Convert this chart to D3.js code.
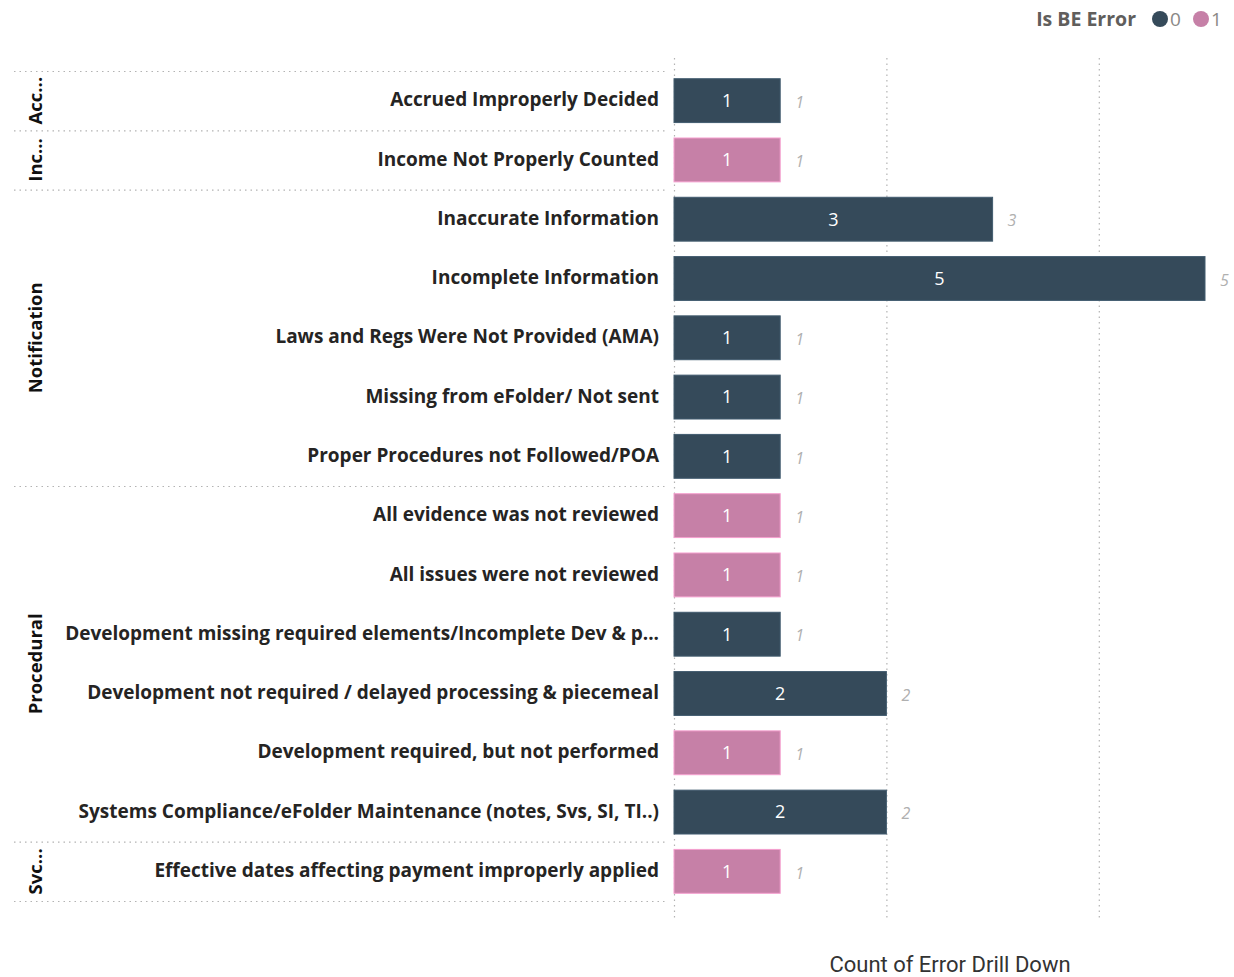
<!DOCTYPE html>
<meta charset="utf-8">
<style>
body { margin: 0; background: #fff; font-family: 'Open Sans', sans-serif; }
</style>
<div id="chart"></div>
<script src="https://d3js.org/d3.v7.min.js"></script>
<script>
var categories = [
  "Accrued Improperly Decided",
  "Income Not Properly Counted",
  "Inaccurate Information",
  "Incomplete Information",
  "Laws and Regs Were Not Provided (AMA)",
  "Missing from eFolder/ Not sent",
  "Proper Procedures not Followed/POA",
  "All evidence was not reviewed",
  "All issues were not reviewed",
  "Development missing required elements/Incomplete Dev & p...",
  "Development not required / delayed processing & piecemeal",
  "Development required, but not performed",
  "Systems Compliance/eFolder Maintenance (notes, Svs, SI, TI..)",
  "Effective dates affecting payment improperly applied"
];
var counts = [1, 1, 3, 5, 1, 1, 1, 1, 1, 1, 2, 1, 2, 1];
var isBE = ["0", "1", "0", "0", "0", "0", "0", "1", "1", "0", "0", "1", "0", "1"];
var groups = ["Acc...", "Inc...", "Notification", "Procedural", "Svc..."];
var groupSizes = [1, 1, 5, 6, 1];
var gridTicks = [0, 2, 4];

var W = 1234, H = 977;
var svg = d3.select("#chart").append("svg").attr("width", W).attr("height", H);

var x = d3.scaleLinear().domain([0, 5]).range([674, 1205]);
var y = d3.scaleBand().domain(categories).range([71, 901]).paddingInner(0.26).paddingOuter(0.13);
var color = d3.scaleOrdinal().domain(["0", "1"]).range(["#354a5a", "#c680a7"]);

// vertical grid
svg.selectAll(".grid").data(gridTicks).enter().append("line")
  .attr("x1", function(d){ return x(d) + 0.5; })
  .attr("x2", function(d){ return x(d) + 0.5; })
  .attr("y1", 58).attr("y2", 918)
  .attr("stroke", "#b3b3b3").attr("stroke-width", 1.2)
  .attr("stroke-dasharray", "1.5,4");

// group separators
var bounds = [0];
groupSizes.forEach(function(s, i){ bounds.push(bounds[i] + s); });
var step = y.step();
function rowTop(i){ return 71 + i * step; }

svg.selectAll(".sep").data(bounds).enter().append("line")
  .attr("x1", 14).attr("x2", 668)
  .attr("y1", function(d){ return rowTop(d) + 0.5; })
  .attr("y2", function(d){ return rowTop(d) + 0.5; })
  .attr("stroke", "#b3b3b3").attr("stroke-width", 1.2)
  .attr("stroke-dasharray", "1.5,4");

// group labels
svg.selectAll(".grp").data(groups).enter().append("text")
  .attr("transform", function(d, i){
    var cy = (rowTop(bounds[i]) + rowTop(bounds[i + 1])) / 2;
    return "translate(42," + cy + ") rotate(-90)";
  })
  .attr("text-anchor", "middle")
  .style("font-size", "18.5px").style("font-weight", "bold").style("fill", "#111")
  .text(function(d){ return d; });

// category labels
svg.selectAll(".cat").data(categories).enter().append("text")
  .attr("x", 659)
  .attr("y", function(d){ return y(d) + y.bandwidth() / 2; })
  .attr("dy", "0.3em")
  .attr("text-anchor", "end")
  .style("font-size", "19px").style("font-weight", "bold").style("fill", "#252423")
  .text(function(d){ return d; });

// bars
svg.selectAll(".bar").data(categories).enter().append("rect")
  .attr("x", x(0))
  .attr("y", function(d){ return y(d); })
  .attr("width", function(d, i){ return x(counts[i]) - x(0); })
  .attr("height", y.bandwidth())
  .attr("fill", function(d, i){ return color(isBE[i]); })
  .attr("stroke", function(d, i){ return d3.color(color(isBE[i])).brighter(0.6); })
  .attr("stroke-width", 1);

// inside labels
svg.selectAll(".in").data(categories).enter().append("text")
  .attr("x", function(d, i){ return (x(0) + x(counts[i])) / 2; })
  .attr("y", function(d){ return y(d) + y.bandwidth() / 2; })
  .attr("dy", "0.35em")
  .attr("text-anchor", "middle")
  .style("font-size", "18px").style("fill", "#fff")
  .text(function(d, i){ return counts[i]; });

// outside labels
svg.selectAll(".out").data(categories).enter().append("text")
  .attr("x", function(d, i){ return x(counts[i]) + 15; })
  .attr("y", function(d){ return y(d) + y.bandwidth() / 2; })
  .attr("dy", "0.45em")
  .style("font-size", "16px").style("font-style", "italic").style("fill", "#b0b0b0")
  .text(function(d, i){ return counts[i]; });

// axis title
svg.append("text")
  .attr("x", 950).attr("y", 972)
  .attr("text-anchor", "middle")
  .style("font-family", "Roboto, sans-serif")
  .style("font-size", "22px").style("fill", "#333")
  .text("Count of Error Drill Down");

// legend
var lg = svg.append("g");
lg.append("text").attr("x", 1136).attr("y", 26).attr("text-anchor", "end")
  .style("font-size", "19.5px").style("font-weight", "bold").style("fill", "#605e5c")
  .text("Is BE Error");
var legItems = [{k: "0", cx: 1160}, {k: "1", cx: 1201}];
lg.selectAll(".lc").data(legItems).enter().append("circle")
  .attr("cx", function(d){ return d.cx; }).attr("cy", 19).attr("r", 8)
  .attr("fill", function(d){ return color(d.k); });
lg.selectAll(".lt").data(legItems).enter().append("text")
  .attr("x", function(d){ return d.cx + 10; }).attr("y", 26)
  .style("font-size", "19px").style("fill", "#8a8886")
  .text(function(d){ return d.k; });
</script>
